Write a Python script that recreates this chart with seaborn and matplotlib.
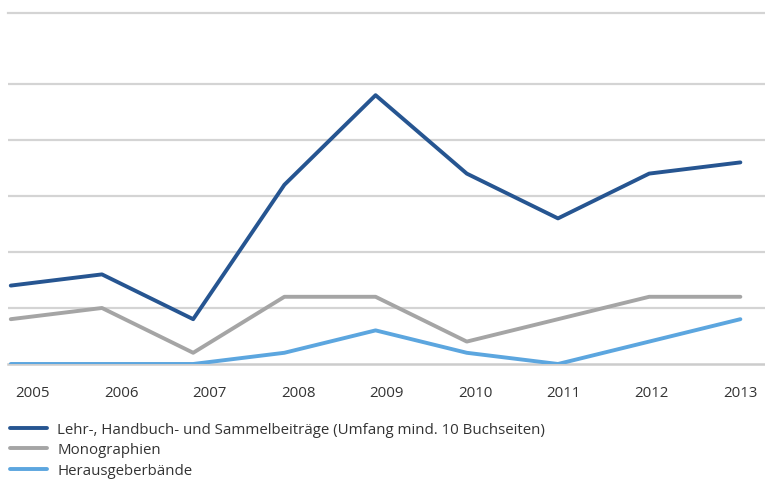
import numpy as np
import pandas as pd
import seaborn as sns
import matplotlib.pyplot as plt

sns.set_style("white")
plt.rcParams['font.family'] = ['Open Sans', 'DejaVu Sans']

years = [2005, 2006, 2007, 2008, 2009, 2010, 2011, 2012, 2013]
beitraege = [7, 8, 4, 16, 24, 17, 13, 17, 18]
monographien = [4, 5, 1, 6, 6, 2, 4, 6, 6]
herausgeber = [0, 0, 0, 1, 3, 1, 0, 2, 4]

names = ['Lehr-, Handbuch- und Sammelbeiträge (Umfang mind. 10 Buchseiten)',
         'Monographien', 'Herausgeberbände']
colors = ['#265591', '#a5a5a5', '#5ca6df']

df = pd.concat([
    pd.DataFrame({'Jahr': years, 'Anzahl': beitraege, 'Art': names[0]}),
    pd.DataFrame({'Jahr': years, 'Anzahl': monographien, 'Art': names[1]}),
    pd.DataFrame({'Jahr': years, 'Anzahl': herausgeber, 'Art': names[2]}),
])

fig = plt.figure(figsize=(7.65, 4.81), dpi=100)
ax = fig.add_axes([0.0105, 0.2412, 0.9895, 0.7297])

for y in [5, 10, 15, 20, 25]:
    ax.axhline(y, color='#d4d4d4', lw=1.6, zorder=0)

sns.lineplot(data=df, x='Jahr', y='Anzahl', hue='Art', palette=colors,
             linewidth=2.8, ax=ax, legend=False, zorder=3)

ax.set_xlim(2004.97, 2013.27)
ax.set_ylim(0, 31.34)
ax.set_yticks([])
ax.set_xticks(np.linspace(2005.24, 2013, 9))
ax.set_xticklabels([str(y) for y in years], fontsize=10.8, color='#333333')
ax.tick_params(axis='x', length=0, pad=15)
ax.set_xlabel('')
ax.set_ylabel('')
for s in ['left', 'right']:
    ax.spines[s].set_visible(False)
ax.spines['bottom'].set_color('#cccccc')
ax.spines['bottom'].set_linewidth(1.8)
ax.spines['top'].set_color('#d4d4d4')
ax.spines['top'].set_linewidth(1.6)

handles = [plt.Line2D([], [], color=c, lw=2.8) for c in colors]
fig.legend(handles, names, loc='upper left', bbox_to_anchor=(0.013, 0.121),
           frameon=False, fontsize=10.8, handlelength=2.45, handletextpad=0.7,
           labelspacing=0.38, borderpad=0, borderaxespad=0, labelcolor='#333333')

fig.savefig('out.png', dpi=100)
